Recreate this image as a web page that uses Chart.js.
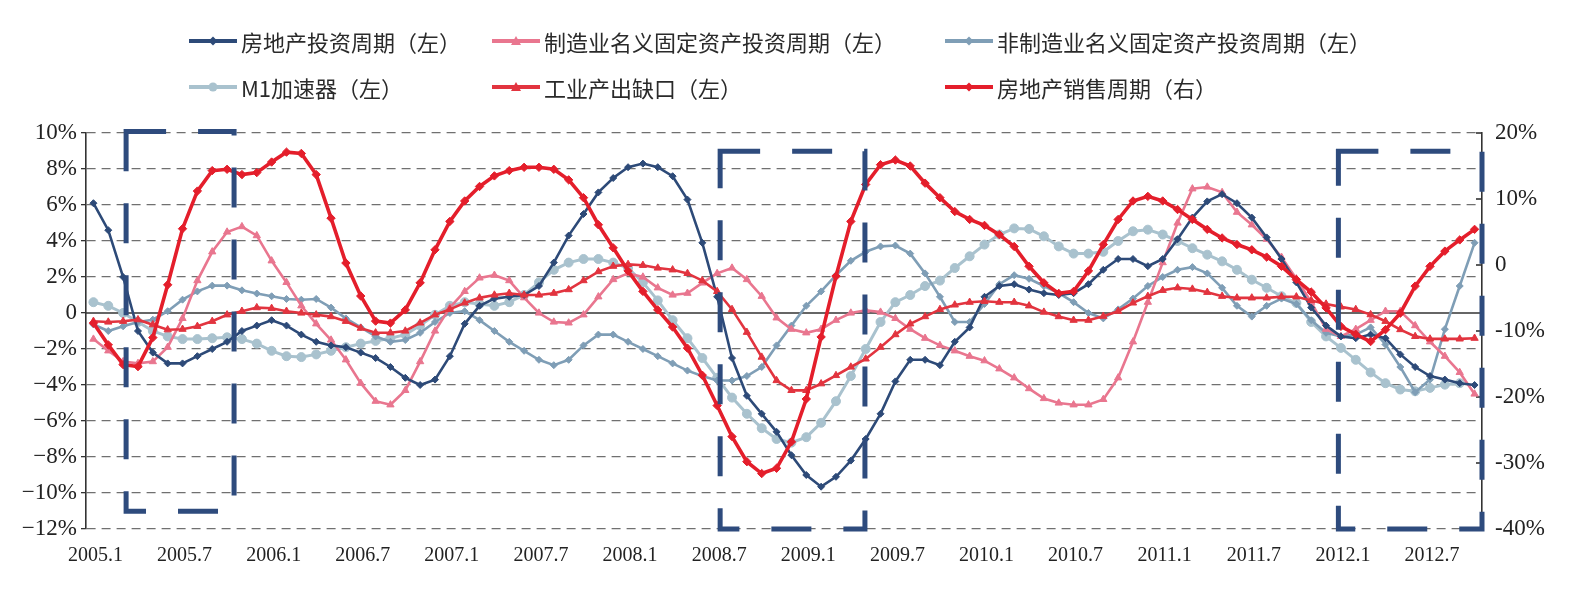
<!DOCTYPE html>
<html>
<head>
<meta charset="utf-8">
<script src="https://cdn.jsdelivr.net/npm/chart.js@4.4.1/dist/chart.umd.min.js"></script>
<style>
body { margin: 0; background: #fff; }
#wrap { position: relative; width: 1586px; height: 591px; }
#legend {
    position: absolute; left: 189px; top: 18px;
    display: grid; grid-template-columns: 303px 453px auto;
    font: 22px "Noto Sans CJK SC", sans-serif; color: #2a2a2a;
}
.item { display: flex; align-items: center; height: 46px; white-space: nowrap; }
.item svg { margin-right: 4px; }
</style>
</head>
<body>
<div id="wrap">
    <canvas id="chart" width="1586" height="591"></canvas>
    <div id="legend"></div>
</div>
<script>
// monthly, 2005.1 - 2012.10
const startYear = 2005
const monthCount = 94
const tickLabels = ['2005.1', '2005.7', '2006.1', '2006.7', '2007.1', '2007.7', '2008.1', '2008.7',
    '2009.1', '2009.7', '2010.1', '2010.7', '2011.1', '2011.7', '2012.1', '2012.7']

// 房地产投资周期（左）
const realEstateInvest = [6.1, 4.6, 2.0, -1.0, -2.2, -2.8, -2.8, -2.4, -2.0, -1.6, -1.0, -0.7, -0.4, -0.7, -1.2, -1.6,
    -1.8, -1.9, -2.2, -2.5, -3.0, -3.6, -4.0, -3.7, -2.4, -0.6, 0.4, 0.8, 0.9, 1.0, 1.5, 2.8,
    4.3, 5.5, 6.7, 7.5, 8.1, 8.3, 8.1, 7.6, 6.3, 3.9, 0.9, -2.5, -4.6, -5.6, -6.6, -7.9,
    -9.0, -9.65, -9.1, -8.2, -7.0, -5.6, -3.8, -2.6, -2.6, -2.9, -1.6, -0.8, 0.9, 1.5, 1.6, 1.3,
    1.1, 1.0, 1.1, 1.6, 2.4, 3.0, 3.0, 2.6, 3.0, 4.1, 5.3, 6.2, 6.6, 6.1, 5.3, 4.2,
    3.0, 1.7, 0.3, -0.7, -1.3, -1.4, -1.2, -1.4, -2.3, -3.0, -3.5, -3.7, -3.9, -4.0]
// 制造业名义固定资产投资周期（左）
const manufInvest = [-1.45, -2.1, -2.7, -2.8, -2.7, -1.9, -0.3, 1.8, 3.4, 4.5, 4.8, 4.3, 2.9, 1.7, 0.4, -0.6,
    -1.5, -2.6, -3.9, -4.9, -5.1, -4.3, -2.7, -1.0, 0.3, 1.2, 1.95, 2.1, 1.8, 0.85, 0.0, -0.5,
    -0.55, -0.1, 0.9, 1.86, 2.2, 2.0, 1.4, 1.0, 1.1, 1.67, 2.2, 2.5, 1.86, 0.93, -0.27, -0.9,
    -1.1, -0.9, -0.4, 0.0, 0.15, 0.05, -0.3, -0.9, -1.4, -1.8, -2.1, -2.4, -2.65, -3.1, -3.6, -4.2,
    -4.75, -5.0, -5.1, -5.1, -4.8, -3.6, -1.6, 0.6, 2.8, 5.0, 6.9, 7.0, 6.7, 5.6, 4.9, 4.1,
    3.1, 1.9, 0.6, -0.9, -1.3, -0.9, -0.4, 0.1, 0.1, -0.7, -1.6, -2.4, -3.3, -4.5]
// 非制造业名义固定资产投资周期（左）
const nonManufInvest = [-0.64, -1.0, -0.74, -0.5, -0.37, 0.1, 0.74, 1.2, 1.52, 1.52, 1.26, 1.08, 0.93, 0.78, 0.74, 0.78,
    0.3, -0.3, -0.8, -1.3, -1.6, -1.5, -1.1, -0.5, 0.0, 0.1, -0.4, -1.0, -1.6, -2.1, -2.6, -2.9,
    -2.6, -1.8, -1.2, -1.2, -1.6, -2.0, -2.4, -2.8, -3.2, -3.5, -3.75, -3.75, -3.5, -3.0, -1.8, -0.7,
    0.4, 1.2, 2.1, 2.9, 3.4, 3.7, 3.75, 3.3, 2.2, 0.9, -0.5, -0.5, 0.5, 1.6, 2.1, 1.9,
    1.5, 1.1, 0.6, 0.0, -0.3, 0.2, 0.8, 1.5, 2.0, 2.4, 2.55, 2.2, 1.4, 0.4, -0.2, 0.4,
    0.8, 0.5, -0.4, -1.1, -1.3, -1.2, -0.8, -1.75, -3.0, -4.4, -3.7, -0.9, 1.5, 3.9]
// M1加速器（左）
const m1Accel = [0.6, 0.4, 0.0, -0.5, -1.0, -1.3, -1.45, -1.45, -1.4, -1.35, -1.45, -1.7, -2.1, -2.4, -2.45, -2.3,
    -2.1, -1.9, -1.7, -1.55, -1.4, -1.2, -0.7, -0.1, 0.4, 0.6, 0.5, 0.4, 0.6, 1.0, 1.7, 2.4,
    2.8, 3.0, 3.0, 2.8, 2.5, 1.7, 0.7, -0.4, -1.4, -2.5, -3.6, -4.7, -5.6, -6.4, -7.0, -7.2,
    -6.9, -6.1, -4.9, -3.5, -2.0, -0.5, 0.6, 1.0, 1.5, 1.8, 2.5, 3.15, 3.8, 4.36, 4.7, 4.67,
    4.26, 3.7, 3.3, 3.3, 3.4, 4.0, 4.54, 4.63, 4.36, 4.0, 3.6, 3.24, 2.87, 2.4, 1.85, 1.4,
    0.93, 0.56, -0.5, -1.3, -1.94, -2.6, -3.3, -3.9, -4.25, -4.35, -4.16, -3.98, -3.9, null]
// 工业产出缺口（左）
const outputGap = [-0.46, -0.5, -0.46, -0.37, -0.65, -0.93, -0.9, -0.74, -0.46, -0.1, 0.1, 0.3, 0.26, 0.1, 0.0, -0.1,
    -0.2, -0.46, -0.84, -1.1, -1.1, -1.0, -0.55, -0.1, 0.2, 0.56, 0.84, 1.0, 1.1, 1.0, 1.0, 1.1,
    1.3, 1.8, 2.3, 2.6, 2.7, 2.65, 2.5, 2.4, 2.2, 1.8, 1.2, 0.2, -1.07, -2.45, -3.75, -4.3,
    -4.3, -3.93, -3.47, -3.0, -2.55, -1.9, -1.2, -0.6, -0.2, 0.2, 0.45, 0.6, 0.65, 0.6, 0.6, 0.4,
    0.05, -0.2, -0.4, -0.4, -0.18, 0.1, 0.56, 0.93, 1.26, 1.4, 1.33, 1.15, 0.93, 0.84, 0.84, 0.84,
    0.9, 0.9, 0.7, 0.5, 0.34, 0.2, -0.09, -0.46, -0.92, -1.3, -1.44, -1.44, -1.44, -1.4]
// 房地产销售周期（右）
const realEstateSales = [-8.8, -12.1, -15.1, -15.4, -11.0, -3.0, 5.5, 11.2, 14.3, 14.5, 13.7, 14.0, 15.6, 17.1, 16.9, 13.7,
    7.1, 0.3, -4.7, -8.5, -8.8, -6.8, -2.7, 2.3, 6.6, 9.7, 11.9, 13.5, 14.3, 14.8, 14.8, 14.5,
    12.9, 10.2, 6.1, 2.6, -0.9, -4.0, -6.8, -9.4, -12.6, -16.7, -21.3, -26.0, -29.8, -31.6, -30.8, -26.8,
    -20.3, -10.9, -1.7, 6.6, 12.2, 15.2, 15.9, 15.0, 12.4, 10.2, 8.1, 6.9, 6.0, 4.6, 2.8, -0.2,
    -2.7, -4.3, -4.0, -0.9, 3.1, 6.9, 9.7, 10.4, 9.7, 8.4, 6.9, 5.4, 4.1, 3.1, 2.3, 1.2,
    -0.2, -2.2, -4.1, -6.5, -9.3, -10.5, -11.6, -9.8, -7.3, -3.2, -0.2, 2.1, 3.8, 5.4]

// dashed highlight boxes, in axis units (category index, left-axis value)
const boxes = [
    { from: 2.2, to: 9.47, top: 10.09, bottom: -11.02 },
    { from: 42.2, to: 51.95, top: 8.98, bottom: -12 },
    { from: 83.83, to: 93.5, top: 8.98, bottom: -12 }
]

const months = []
for (let i = 0; i < monthCount; i++) {
    months.push(`${startYear + Math.floor(i / 12)}.${i % 12 + 1}`)
}

const series = [
    { name: '房地产投资周期（左）', data: realEstateInvest, color: '#2D4A78', style: 'rectRot', radius: 3.5, width: 2.6, axis: 'y', order: 2 },
    { name: '制造业名义固定资产投资周期（左）', data: manufInvest, color: '#E9768F', style: 'triangle', radius: 4.2, width: 2.6, axis: 'y', order: 3 },
    { name: '非制造业名义固定资产投资周期（左）', data: nonManufInvest, color: '#7F9EB6', style: 'rectRot', radius: 3.5, width: 2.6, axis: 'y', order: 4 },
    { name: 'M1加速器（左）', data: m1Accel, color: '#A9C2CE', style: 'circle', radius: 4.5, width: 3, axis: 'y', order: 5 },
    { name: '工业产出缺口（左）', data: outputGap, color: '#E2343F', style: 'triangle', radius: 4.2, width: 2.6, axis: 'y', order: 1 },
    { name: '房地产销售周期（右）', data: realEstateSales, color: '#E41E2B', style: 'rectRot', radius: 4.2, width: 3.6, axis: 'y1', order: 0 }
]

const pct = (v, minus) => v === 0 ? '0' : (v < 0 ? minus + Math.abs(v) : v) + '%'

const overlay = {
    id: 'overlay',
    beforeDatasetsDraw(chart) {
        const { ctx, chartArea, scales } = chart
        const y0 = scales.y.getPixelForValue(0)
        ctx.save()
        ctx.strokeStyle = '#333'
        ctx.lineWidth = 1.6
        ctx.beginPath()
        ctx.moveTo(chartArea.left, y0)
        ctx.lineTo(chartArea.right, y0)
        ctx.stroke()
        // inward ticks on the right axis
        scales.y1.ticks.forEach(t => {
            const py = scales.y1.getPixelForValue(t.value)
            ctx.beginPath()
            ctx.moveTo(chartArea.right - 6, py)
            ctx.lineTo(chartArea.right, py)
            ctx.stroke()
        })
        ctx.restore()
    },
    afterDatasetsDraw(chart) {
        const { ctx, scales: { x, y } } = chart
        ctx.save()
        ctx.strokeStyle = '#2E4B7D'
        ctx.lineWidth = 5
        ctx.setLineDash([40, 32])
        boxes.forEach(b => {
            const l = x.getPixelForValue(b.from), r = x.getPixelForValue(b.to)
            const t = y.getPixelForValue(b.top), btm = y.getPixelForValue(b.bottom)
            ctx.beginPath()
            ctx.moveTo(l, t)
            ctx.lineTo(r, t)
            ctx.lineTo(r, btm)
            ctx.lineTo(l, btm)
            ctx.closePath()
            ctx.stroke()
        })
        ctx.restore()
    }
}

const ctx = document.getElementById('chart').getContext('2d')
new Chart(ctx, {
    type: 'line',
    data: {
        labels: months,
        datasets: series.map(s => ({
            label: s.name,
            data: s.data,
            yAxisID: s.axis,
            order: s.order,
            borderColor: s.color,
            backgroundColor: s.color,
            borderWidth: s.width,
            pointStyle: s.style,
            pointRadius: s.radius,
            pointBorderWidth: 1,
            pointBackgroundColor: s.color,
            pointBorderColor: s.color,
            tension: 0,
            spanGaps: false
        }))
    },
    options: {
        responsive: false,
        animation: false,
        layout: { padding: { top: 133, left: 0, right: 0, bottom: 0 } },
        plugins: { legend: { display: false }, tooltip: { enabled: false } },
        scales: {
            x: {
                type: 'category',
                offset: true,
                grid: { display: false, drawTicks: false },
                border: { display: false },
                afterFit: s => { s.height = 62 },
                ticks: {
                    autoSkip: false, maxRotation: 0, padding: 15, labelOffset: 2,
                    color: '#222', font: { family: 'Liberation Serif', size: 20 },
                    callback: function (v) {
                        const lab = this.getLabelForValue(v)
                        return tickLabels.includes(lab) ? lab : ''
                    }
                }
            },
            y: {
                position: 'left',
                min: -12, max: 10,
                afterFit: s => { s.width = 86 },
                grid: {
                    color: c => c.tick && c.tick.value === 0 ? 'rgba(0,0,0,0)' : '#707070',
                    lineWidth: 1.3,
                    drawTicks: true, tickLength: 5, tickColor: '#333', tickBorderDash: []
                },
                border: { display: true, color: '#333', width: 1.6, dash: [9, 6] },
                ticks: {
                    stepSize: 2, padding: 4, color: '#222',
                    font: { family: 'Liberation Serif', size: 23 },
                    callback: v => pct(v, '\u2212')
                }
            },
            y1: {
                position: 'right',
                min: -40, max: 20,
                afterFit: s => { s.width = 104 },
                grid: { drawOnChartArea: false, drawTicks: false },
                border: { display: true, color: '#333', width: 1.6 },
                ticks: {
                    stepSize: 10, padding: 13, color: '#222',
                    font: { family: 'Liberation Serif', size: 23 },
                    callback: v => pct(v, '-')
                }
            }
        }
    },
    plugins: [overlay]
})

// legend laid out in three columns like the source
const legend = document.getElementById('legend')
series.forEach(s => {
    const item = document.createElement('div')
    item.className = 'item'
    let mark
    if (s.style === 'circle') {
        mark = `<circle cx="24" cy="8" r="4.5" fill="${s.color}"/>`
    } else if (s.style === 'triangle') {
        mark = `<polygon points="24,3 29,12 19,12" fill="${s.color}"/>`
    } else {
        mark = `<polygon points="24,3.5 28.5,8 24,12.5 19.5,8" fill="${s.color}"/>`
    }
    item.innerHTML = `<svg width="48" height="16"><line x1="0" y1="8" x2="48" y2="8" stroke="${s.color}" stroke-width="4"/>${mark}</svg><span>${s.name}</span>`
    legend.appendChild(item)
})
</script>
</body>
</html>
